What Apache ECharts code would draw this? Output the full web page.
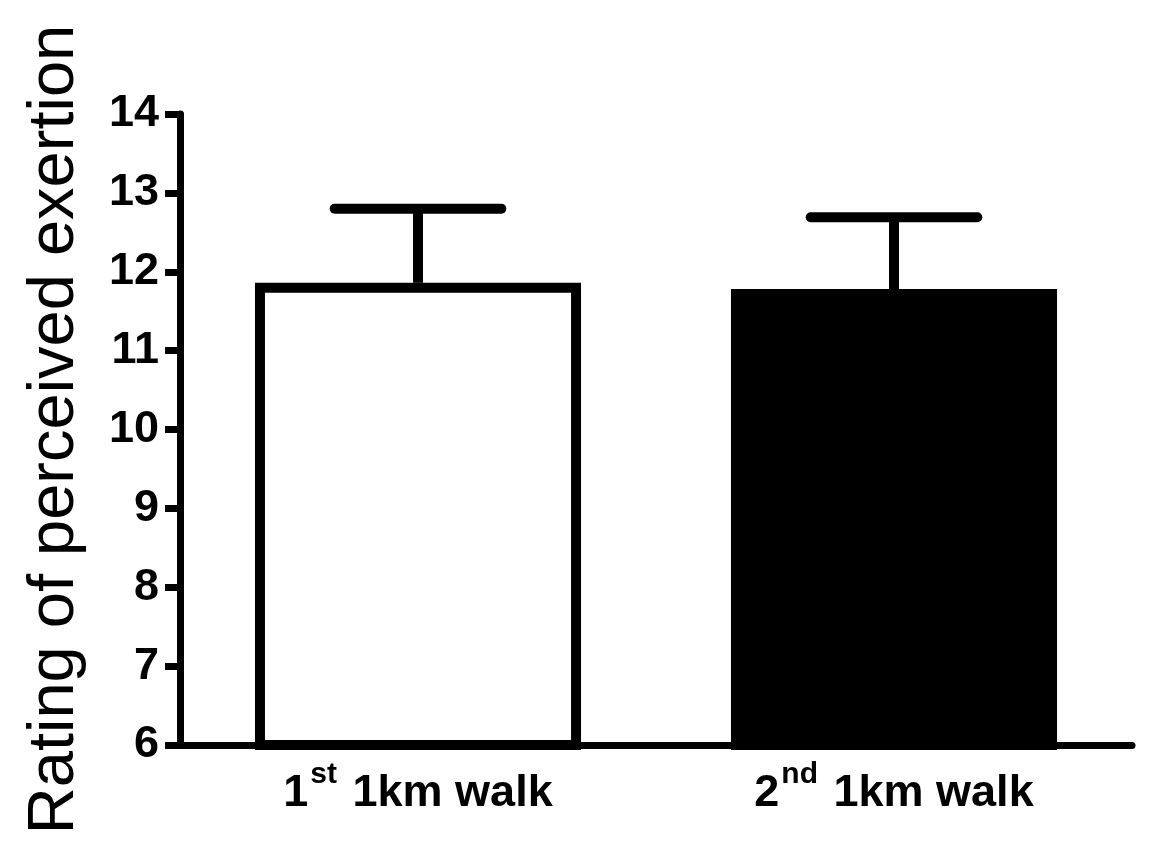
<!DOCTYPE html>
<html>
<head>
<meta charset="utf-8">
<title>Rating of perceived exertion</title>
<script src="https://cdn.jsdelivr.net/npm/echarts@6/dist/echarts.min.js"></script>
<style>
  html, body { margin: 0; padding: 0; background: #fff; }
  #chart { width: 1166px; height: 863px; }
</style>
</head>
<body>
<div id="chart"></div>
<script>
// data
const categories = ['1st 1km walk', '2nd 1km walk'];
const means = [11.86, 11.78];
const errUpper = [12.8, 12.69];
const barColors = ['#ffffff', '#000000'];
const yTicks = { min: 6, max: 14, step: 1 };

const font = '"Liberation Sans", Arial, sans-serif';

// "1st 1km walk" -> rich text with a superscript
const labelFmt = (v) => {
  const m = v.match(/^(\d+)(st|nd|rd|th) (.*)$/);
  if (!m) return '{b|' + v + '}';
  return '{b|' + m[1] + '}{s|' + m[2] + '}{b| ' + m[3] + '}';
};

const chart = echarts.init(document.getElementById('chart'));

const option = {
  backgroundColor: '#fff',
  animation: false,
  grid: { left: 180, right: 34, top: 114, bottom: 118 },
  xAxis: {
    type: 'category',
    data: categories,
    axisLine: { lineStyle: { color: '#000', width: 7 } },
    axisTick: { alignWithLabel: true, length: 18, lineStyle: { color: '#000', width: 7 } },
    axisLabel: {
      margin: 15,
      formatter: labelFmt,
      rich: {
        b: { fontFamily: font, fontWeight: 'bold', fontSize: 45, color: '#000', verticalAlign: 'bottom' },
        s: { fontFamily: font, fontWeight: 'bold', fontSize: 30, color: '#000', verticalAlign: 'bottom', padding: [0, 3, 26, 2] }
      }
    }
  },
  yAxis: {
    type: 'value',
    min: yTicks.min,
    max: yTicks.max,
    interval: yTicks.step,
    name: 'Rating of perceived exertion',
    nameLocation: 'middle',
    nameGap: 92,
    nameTextStyle: { fontFamily: font, fontSize: 65, color: '#000' },
    axisLine: { show: true, lineStyle: { color: '#000', width: 7 } },
    axisTick: { show: true, length: 15, lineStyle: { color: '#000', width: 7 } },
    axisLabel: { margin: 21, fontFamily: font, fontWeight: 'bold', fontSize: 45, color: '#000' },
    splitLine: { show: false }
  },
  series: [
    {
      type: 'bar',
      barWidth: '68.5%',
      data: means.map((v, i) => ({
        value: v,
        itemStyle: { color: barColors[i], borderColor: '#000', borderWidth: 10 }
      })),
      z: 3
    },
    {
      // error bars (upper only)
      type: 'custom',
      data: means.map((v, i) => [i, v, errUpper[i]]),
      renderItem: (params, api) => {
        const base = api.coord([api.value(0), api.value(1)]);
        const top = api.coord([api.value(0), api.value(2)]);
        const half = api.size([1, 0])[0] * 0.175;
        return {
          type: 'group',
          children: [
            { type: 'line', shape: { x1: base[0], y1: base[1], x2: top[0], y2: top[1] }, style: { stroke: '#000', lineWidth: 10 } },
            { type: 'line', shape: { x1: top[0] - half, y1: top[1], x2: top[0] + half, y2: top[1] }, style: { stroke: '#000', lineWidth: 10, lineCap: 'round' } }
          ]
        };
      },
      z: 2
    }
  ]
};

chart.setOption(option);
</script>
</body>
</html>
